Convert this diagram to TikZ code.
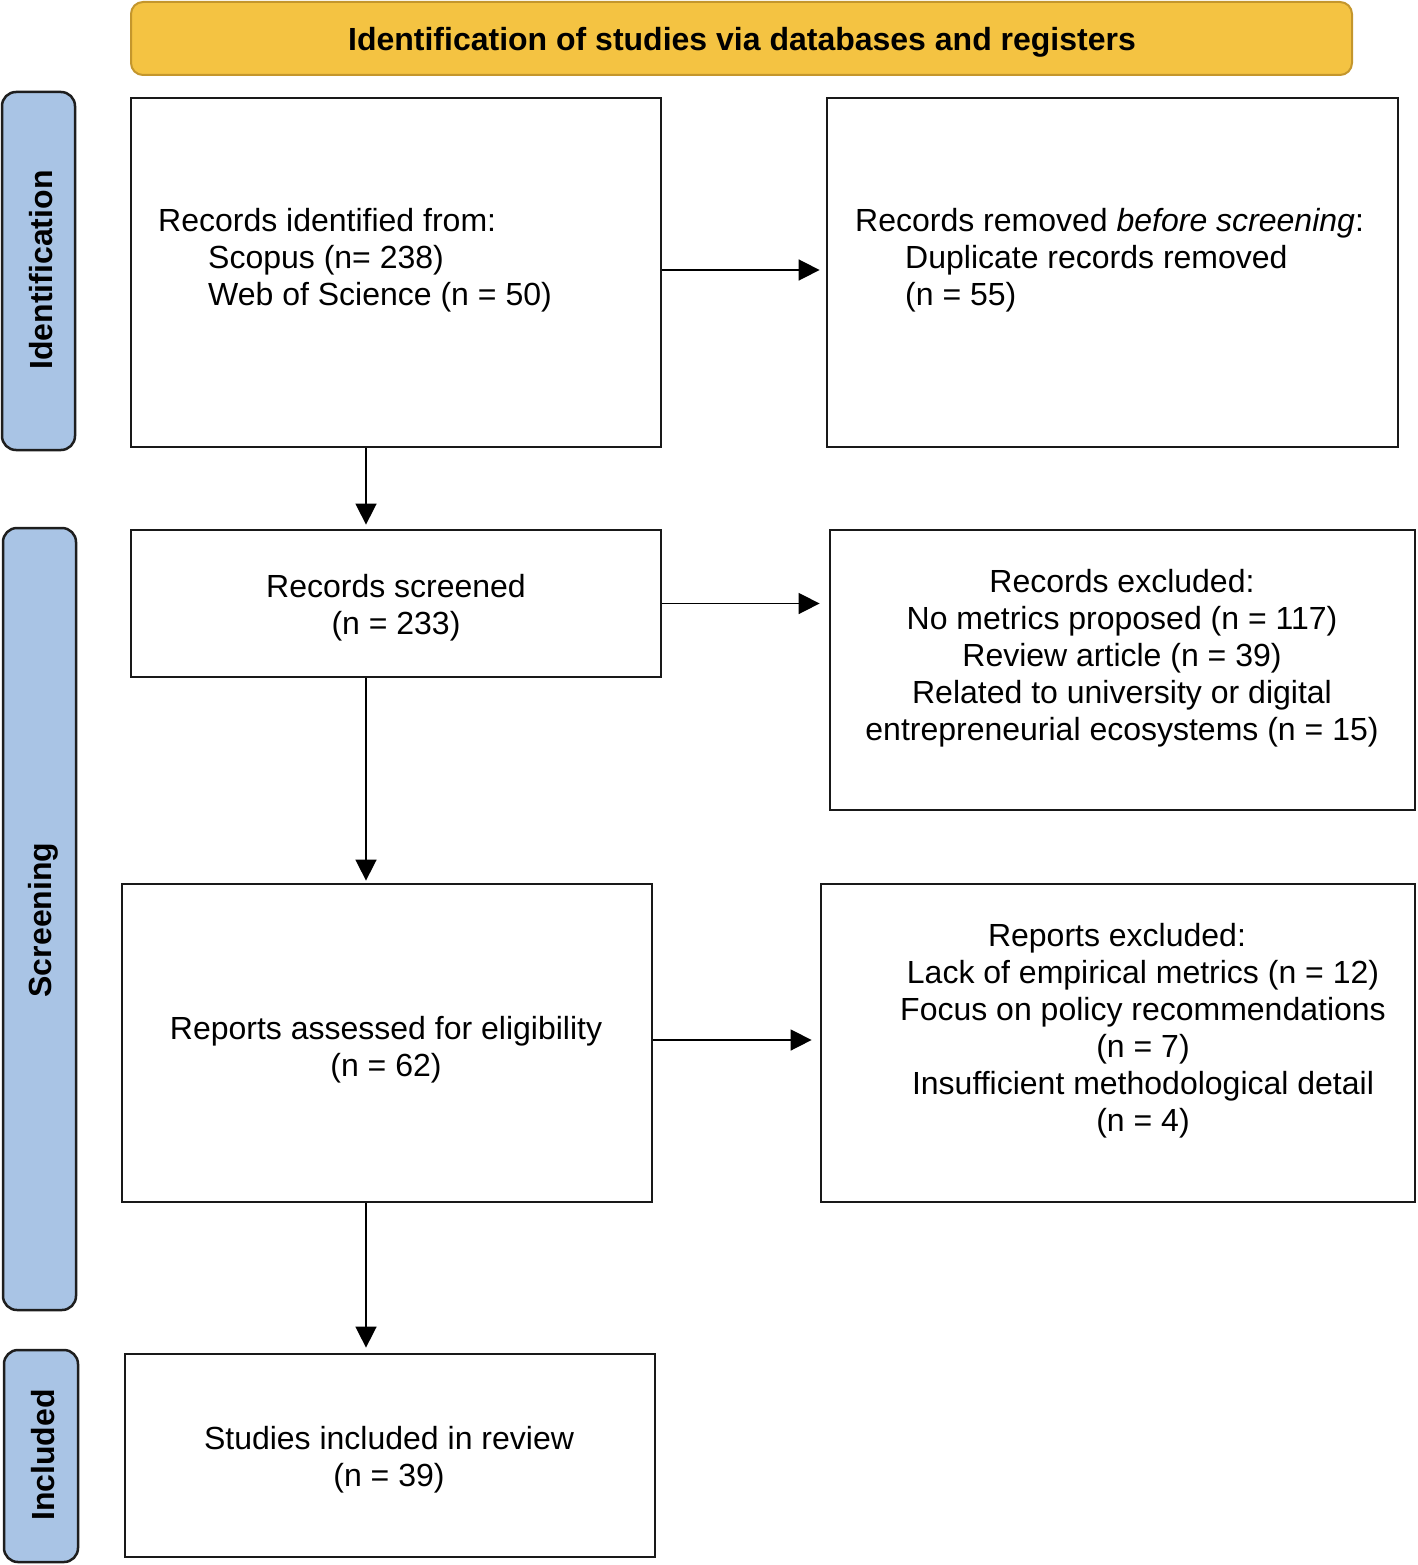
\documentclass[tikz,border=0pt]{standalone}
\usepackage{fontspec}
\setmainfont{Liberation Sans}
\usetikzlibrary{arrows.meta,calc}
\definecolor{titlefill}{HTML}{F4C342}
\definecolor{titledraw}{HTML}{C4962C}
\definecolor{tabfill}{HTML}{A9C4E5}
\definecolor{tabdraw}{HTML}{1E1E1E}
\begin{document}
\begin{tikzpicture}[x=1pt,y=-1pt,
  every node/.style={font=\fontsize{32}{37}\selectfont, inner sep=0pt},
  titlebox/.style={draw=titledraw, fill=titlefill, line width=2pt, rounded corners=12pt},
  titletext/.style={font=\fontsize{32}{37}\selectfont\bfseries},
  tabbox/.style={draw=tabdraw, fill=tabfill, line width=2.5pt, rounded corners=14pt},
  tablabel/.style={rotate=90, font=\fontsize{32}{37}\selectfont\bfseries},
  flowbox/.style={draw=black!90, line width=2.8pt, fill=white},
  txt/.style={align=center},
  arr/.style={line width=1.6pt, -{Triangle[length=21pt,width=21pt]}}
]
\useasboundingbox (0,0) rectangle (1417,1565);
% title
\node[titlebox, minimum width=1221pt, minimum height=73pt] (title) at (741.5,38.5) {};
\node[titletext] (titlel) at (742,42) {Identification of studies via databases and registers};
% side tabs
\node[tabbox, minimum width=73pt, minimum height=358pt] (tabI) at (38.5,271) {};
\node[tablabel] (tabIl) at (41,270) {Identification};
\node[tabbox, minimum width=73pt, minimum height=782pt] (tabS) at (39.5,919) {};
\node[tablabel] (tabSl) at (43,920) {Screening};
\node[tabbox, minimum width=74pt, minimum height=212pt] (tabC) at (41,1456) {};
\node[tablabel] (tabCl) at (43,1455) {Included};
% boxes
\node[flowbox, minimum width=530pt, minimum height=349pt] (b1) at (396,272.5) {};
\node[flowbox, minimum width=571pt, minimum height=349pt] (b2) at (1112.5,272.5) {};
\node[flowbox, minimum width=530pt, minimum height=147pt] (b3) at (396,603.5) {};
\node[flowbox, minimum width=585pt, minimum height=280pt] (b4) at (1122.5,670) {};
\node[flowbox, minimum width=530pt, minimum height=318pt] (b5) at (387,1043) {};
\node[flowbox, minimum width=594pt, minimum height=318pt] (b6) at (1118,1043) {};
\node[flowbox, minimum width=530pt, minimum height=203pt] (b7) at (390,1455.5) {};
% texts
\node[anchor=west, align=left] (t1) at (158,260) {Records identified from:\\\hspace*{50pt}Scopus (n= 238)\\\hspace*{50pt}Web of Science (n = 50)};
\node[anchor=west, align=left] (t2) at (855,260) {Records removed \textit{before screening}:\\\hspace*{50pt}Duplicate records removed\\\hspace*{50pt}(n = 55)};
\node[txt] (t3) at (396,607.5) {Records screened\\(n = 233)};
\node[txt] (t4) at (1122,658.5) {Records excluded:\\No metrics proposed (n = 117)\\Review article (n = 39)\\Related to university or digital\\entrepreneurial ecosystems (n = 15)};
\node[txt] (t5) at (386,1049.5) {Reports assessed for eligibility\\(n = 62)};
\node[txt] (t6) at (1143,1031) {Reports excluded:\hspace*{52pt}\\Lack of empirical metrics (n = 12)\\Focus on policy recommendations\\(n = 7)\\Insufficient methodological detail\\(n = 4)};
\node[txt] (t7) at (389,1459.5) {Studies included in review\\(n = 39)};
% connectors
\coordinate (vx) at (366,0);
\draw[arr, shorten >=6pt] (b1.east |- 0,270) -- (b2.west |- 0,270);
\draw[arr, shorten >=9pt] (b3.east) -- (b4.west |- b3.east);
\draw[arr, shorten >=8pt] (b5.east |- 0,1040) -- (b6.west |- 0,1040);
\draw[arr, shorten >=4pt] (b1.south -| vx) -- (b3.north -| vx);
\draw[arr, shorten >=2pt] (b3.south -| vx) -- (b5.north -| vx);
\draw[arr, shorten >=5pt] (b5.south -| vx) -- (b7.north -| vx);
\end{tikzpicture}
\end{document}
